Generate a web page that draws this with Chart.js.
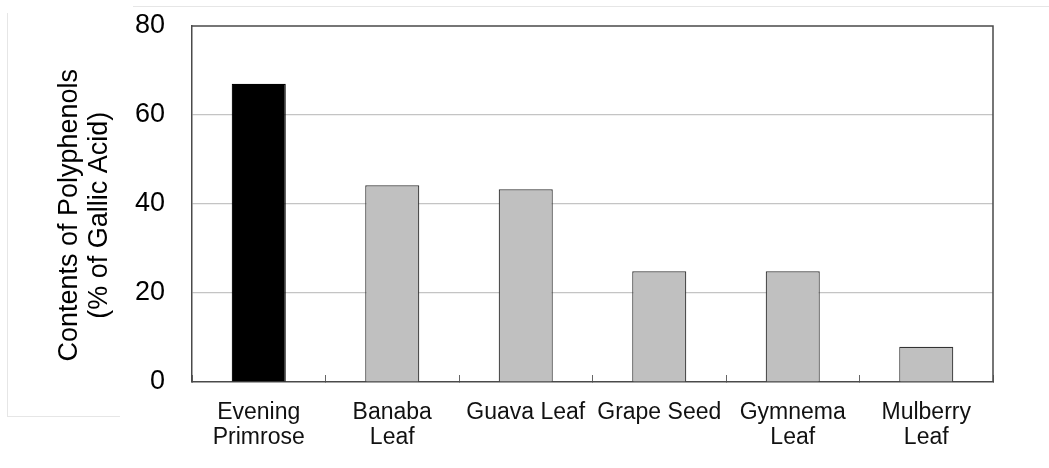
<!DOCTYPE html>
<html>
<head>
<meta charset="utf-8">
<script src="https://cdn.jsdelivr.net/npm/chart.js@4/dist/chart.umd.min.js"></script>
<style>
  html, body { margin: 0; padding: 0; background: #fff; }
  #wrap { position: relative; width: 1049px; height: 468px; }
  canvas { position: absolute; left: 0; top: 0; }
  .deco { position: absolute; background: #e6e6e6; }
</style>
</head>
<body>
<div id="wrap">
  <div class="deco" style="left:133px; top:6px; width:916px; height:1px;"></div>
  <div class="deco" style="left:7px; top:13px; width:1px; height:403px;"></div>
  <div class="deco" style="left:7px; top:416px; width:113px; height:1px;"></div>
  <canvas id="c" width="1049" height="468"></canvas>
</div>
<script>
const categories = [['Evening', 'Primrose'], ['Banaba', 'Leaf'], 'Guava Leaf', 'Grape Seed', ['Gymnema', 'Leaf'], ['Mulberry', 'Leaf']];
const polyphenols = [67.0, 44.2, 43.3, 24.9, 24.9, 7.9];
const yTicks = [0, 20, 40, 60, 80];
const yTitle = ['Contents of Polyphenols   ', '(% of Gallic Acid)   '];

const frame = {
  id: 'frame',
  afterDatasetsDraw(chart) {
    const {ctx, chartArea: a} = chart;
    ctx.save();
    ctx.strokeStyle = '#4a4a4a';
    ctx.lineWidth = 1.5;
    ctx.beginPath();
    ctx.moveTo(a.left, a.top);
    ctx.lineTo(a.right, a.top);
    ctx.lineTo(a.right, a.bottom);
    ctx.stroke();
    ctx.restore();
  }
};

new Chart(document.getElementById('c'), {
  type: 'bar',
  data: {
    labels: categories,
    datasets: [{
      data: polyphenols,
      backgroundColor: (c) => c.dataIndex === 0 ? '#000000' : '#c0c0c0',
      borderColor: (c) => c.dataIndex === 0 ? '#000000' : '#333333',
      borderWidth: 1.2,
      categoryPercentage: 1.0,
      barPercentage: 0.405
    }]
  },
  options: {
    responsive: false,
    animation: false,
    layout: { padding: { left: 55, right: 56, top: 26, bottom: 0 } },
    plugins: { legend: { display: false }, tooltip: { enabled: false } },
    scales: {
      x: {
        grid: {
          offset: true,
          drawOnChartArea: false,
          drawTicks: true,
          tickLength: -7,
          color: '#666666',
          lineWidth: 1
        },
        border: { color: '#4a4a4a', width: 1.5 },
        ticks: {
          color: '#111111',
          font: { family: '"Liberation Sans", Arial, sans-serif', size: 23, lineHeight: 1.05 },
          padding: 26,
          maxRotation: 0,
          autoSkip: false
        },
        afterFit(s) { s.height = 86; s.paddingLeft = 0; s.paddingRight = 0; }
      },
      y: {
        min: 0,
        max: 80,
        afterBuildTicks(s) { s.ticks = yTicks.map(v => ({ value: v })); },
        grid: {
          drawTicks: false,
          color: (c) => (c.tick && (c.tick.value === 0 || c.tick.value === 80)) ? 'rgba(0,0,0,0)' : '#c4c4c4',
          lineWidth: 1.2
        },
        border: { color: '#4a4a4a', width: 1.5 },
        ticks: {
          color: '#000000',
          font: { family: '"Liberation Sans", Arial, sans-serif', size: 27 },
          padding: 27
        },
        title: {
          display: true,
          text: yTitle,
          color: '#000000',
          font: { family: '"Liberation Sans", Arial, sans-serif', size: 27, lineHeight: 1.11 },
          padding: { top: 0, bottom: 0 }
        },
        afterFit(s) { s.width = 137; s.paddingTop = 0; s.paddingBottom = 0; }
      }
    }
  },
  plugins: [frame]
});
</script>
</body>
</html>
